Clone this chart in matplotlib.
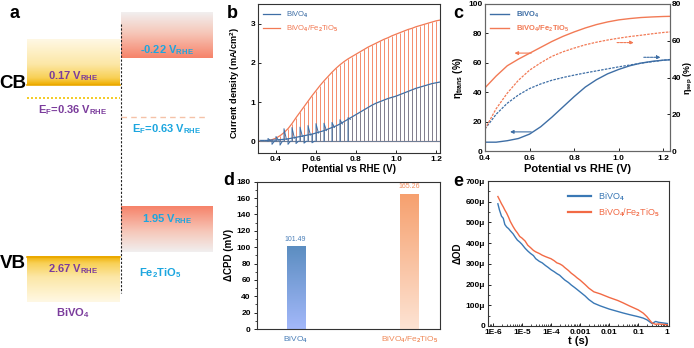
import numpy as np
import matplotlib
matplotlib.use('Agg')
import matplotlib.pyplot as plt
from matplotlib.colors import LinearSegmentedColormap
from matplotlib.ticker import FixedLocator, MultipleLocator, LogLocator, NullFormatter

plt.rcParams['font.family'] = ['Liberation Sans', 'DejaVu Sans']
plt.rcParams['font.weight'] = 'bold'
plt.rcParams['axes.labelweight'] = 'bold'
plt.rcParams['mathtext.fontset'] = 'custom'
plt.rcParams['mathtext.rm'] = 'Liberation Sans:bold'
plt.rcParams['mathtext.bf'] = 'Liberation Sans:bold'
plt.rcParams['mathtext.it'] = 'Liberation Sans:bold'
plt.rcParams['mathtext.default'] = 'bf'

# ---------------- data ----------------
# panel a : band positions (V vs RHE)
bv_cb, bv_vb, bv_ef = 0.17, 2.67, 0.36
fe_cb, fe_vb, fe_ef = -0.22, 1.95, 0.63

# panel b : chopped LSV, values at each chop edge
b_v = [0.32, 0.34, 0.36, 0.38, 0.40, 0.42, 0.44, 0.46, 0.48, 0.50,
       0.52, 0.54, 0.56, 0.58, 0.60, 0.62, 0.64, 0.66, 0.68, 0.70,
       0.72, 0.74, 0.76, 0.78, 0.80, 0.82, 0.84, 0.86, 0.88, 0.90,
       0.92, 0.94, 0.96, 0.98, 1.00, 1.02, 1.04, 1.06, 1.08, 1.10,
       1.12, 1.14, 1.16, 1.18, 1.20, 1.22]
fe_light = [0.00, 0.01, 0.02, 0.04, 0.08, 0.14, 0.22, 0.32, 0.45, 0.60,
            0.74, 0.88, 1.02, 1.16, 1.29, 1.42, 1.54, 1.65, 1.76, 1.86,
            1.95, 2.03, 2.10, 2.16, 2.22, 2.28, 2.34, 2.40, 2.45, 2.50,
            2.55, 2.60, 2.64, 2.69, 2.73, 2.77, 2.81, 2.85, 2.88, 2.92,
            2.95, 2.98, 3.01, 3.04, 3.07, 3.09]
bv_light = [0.02, 0.02, 0.02, 0.03, 0.03, 0.04, 0.05, 0.06, 0.08, 0.10,
            0.12, 0.14, 0.16, 0.18, 0.21, 0.24, 0.27, 0.31, 0.35, 0.39,
            0.44, 0.50, 0.56, 0.62, 0.68, 0.74, 0.80, 0.86, 0.92, 0.97,
            1.01, 1.05, 1.09, 1.12, 1.15, 1.19, 1.23, 1.27, 1.31, 1.35,
            1.38, 1.41, 1.44, 1.47, 1.49, 1.51]
bv_spike = [0.00, 0.00, 0.07, -0.08, 0.12, -0.10, 0.32, -0.08, 0.35, -0.06,
            0.36, -0.05, 0.40, -0.04, 0.45, 0.00, 0.46, 0.00, 0.48, 0.00,
            0.55, 0.00, 0.60, 0.00, 0.00, 0.00, 0.00, 0.00, 0.00, 0.00,
            0.00, 0.00, 0.00, 0.00, 0.00, 0.00, 0.00, 0.00, 0.00, 0.00,
            0.00, 0.00, 0.00, 0.00, 0.00, 0.00]
fe_dark = 0.0
bv_dark = 0.0

# panel c : efficiencies
c_v = [0.40, 0.45, 0.50, 0.55, 0.60, 0.65, 0.70, 0.75, 0.80, 0.85,
       0.90, 0.95, 1.00, 1.05, 1.10, 1.15, 1.20, 1.23]
fe_trans = [43.0, 51.0, 58.0, 62.5, 66.5, 70.5, 74.5, 78.0, 81.0, 83.7,
            86.0, 87.8, 89.2, 90.1, 90.8, 91.2, 91.5, 91.6]
bv_trans = [6.0, 6.0, 7.0, 8.5, 11.5, 16.5, 23.0, 30.0, 37.0, 43.5,
            48.5, 52.5, 55.5, 58.0, 59.8, 61.0, 61.8, 62.0]
fe_sep = [12.0, 23.0, 31.5, 38.5, 44.0, 48.0, 51.5, 54.0, 56.0, 57.8,
          59.2, 60.4, 61.4, 62.3, 63.0, 63.8, 64.5, 64.8]
bv_sep = [12.0, 20.0, 26.0, 30.5, 34.0, 36.5, 38.5, 40.0, 41.3, 42.5,
          43.6, 44.7, 45.8, 46.8, 47.8, 48.6, 49.4, 49.8]

# panel d : CPD
d_labels = ['BiVO$_4$', 'BiVO$_4$/Fe$_2$TiO$_5$']
d_values = [101.49, 165.26]

# panel e : TAS decay (ΔOD in μ units)
e_t = [1.5e-6, 1.7e-6, 2e-6, 2.3e-6, 2.6e-6, 3e-6, 3.5e-6, 4e-6, 5e-6, 6e-6,
       7e-6, 8.5e-6, 1e-5, 1.3e-5, 1.6e-5, 2e-5, 2.5e-5, 3e-5, 4e-5, 5e-5,
       6.5e-5, 8e-5, 1e-4, 1.3e-4, 1.6e-4, 2e-4, 2.5e-4, 3e-4, 4e-4, 5e-4,
       6.5e-4, 8e-4, 1e-3, 1.5e-3, 2e-3, 3e-3, 5e-3, 1e-2, 2e-2, 3e-2,
       5e-2, 0.1, 0.15, 0.2, 0.25, 0.3, 0.4, 0.5, 0.7, 1.0]
e_bv = [590, 560, 530, 520, 490, 478, 470, 460, 445, 428,
        415, 405, 395, 375, 362, 350, 340, 325, 312, 305,
        292, 283, 272, 262, 253, 245, 232, 222, 210, 198,
        186, 176, 165, 145, 128, 110, 97, 82, 70, 63,
        55, 45, 38, 30, 20, 12, 22, 18, 15, 12]
e_fe = [625, 610, 590, 575, 560, 545, 525, 505, 480, 462,
        450, 432, 425, 410, 390, 378, 365, 358, 350, 342,
        335, 330, 325, 315, 305, 300, 292, 282, 268, 255,
        243, 232, 222, 200, 183, 165, 155, 138, 123, 112,
        97, 78, 62, 45, 28, 15, 8, 10, 8, 6]
e_ticks = [0, 100, 200, 300, 400, 500, 600, 700]

# ---------------- style ----------------
BLUE = '#3E6EA5'
ORANGE = '#F27A55'
PURPLE = '#7B3C9C'
CYAN = '#1CA6DF'
TICK = 6
LAB = 7

fig = plt.figure(figsize=(6.94, 3.48), dpi=100)

# ======== panel a ========
axa = fig.add_axes([0, 0, 215 / 694, 1])
axa.set_axis_off()
bv_cmap = LinearSegmentedColormap.from_list(
    'bv', [(0, '#FFF8E4'), (0.55, '#FCE7A6'), (0.85, '#F8D055'), (1, '#EFAE00')])
fe_cmap = LinearSegmentedColormap.from_list(
    'fe', [(0, '#F1EFEF'), (0.45, '#F6C7B9'), (1, '#F6836A')])


def grad_box(ax, x0, x1, e_edge, e_far, cmap):
    g = np.linspace(1, 0, 100).reshape(-1, 1)
    ax.imshow(g, cmap=cmap, extent=(x0, x1, e_edge, e_far), origin='lower',
              aspect='auto', interpolation='bilinear', zorder=1)


box_h = 0.66
grad_box(axa, 27, 120, bv_cb, bv_cb - box_h, bv_cmap)
grad_box(axa, 27, 120, bv_vb, bv_vb + box_h, bv_cmap)
grad_box(axa, 121, 213, fe_cb, fe_cb - box_h, fe_cmap)
grad_box(axa, 121, 213, fe_vb, fe_vb + box_h, fe_cmap)
axa.plot([27, 120], [bv_cb, bv_cb], color='#E9A800', lw=1.2, zorder=2)
axa.plot([27, 120], [bv_vb, bv_vb], color='#E9A800', lw=1.2, zorder=2)
axa.plot([27, 120], [bv_ef, bv_ef], color='#F2C200', lw=1.2, ls=(0, (1.2, 1.2)), zorder=2)
axa.plot([121, 205], [fe_ef, fe_ef], color='#F5C2A8', lw=1.0, ls=(0, (4, 3)), zorder=2)
axa.plot([121, 121], [-0.72, 3.2], color='#222222', lw=0.8, ls=(0, (2, 1.5)), zorder=3)

FA = 8
axa.text(73, bv_cb - 0.13, '0.17 V$_{RHE}$', color=PURPLE, fontsize=FA, ha='center', va='center')
axa.text(73, bv_ef + 0.17, 'E$_F$=0.36 V$_{RHE}$', color=PURPLE, fontsize=FA, ha='center', va='center')
axa.text(73, bv_vb + 0.19, '2.67 V$_{RHE}$', color=PURPLE, fontsize=FA, ha='center', va='center')
axa.text(73, 3.49, 'BiVO$_4$', color=PURPLE, fontsize=FA, ha='center', va='center')
axa.text(167, fe_cb - 0.12, '-0.22 V$_{RHE}$', color=CYAN, fontsize=FA, ha='center', va='center')
axa.text(167, fe_ef + 0.18, 'E$_F$=0.63 V$_{RHE}$', color=CYAN, fontsize=FA, ha='center', va='center')
axa.text(167, fe_vb + 0.17, '1.95 V$_{RHE}$', color=CYAN, fontsize=FA, ha='center', va='center')
axa.text(160, 2.91, 'Fe$_2$TiO$_5$', color=CYAN, fontsize=FA, ha='center', va='center')
axa.text(13, bv_cb - 0.02, 'CB', fontsize=13.5, ha='center', va='center', color='black')
axa.text(13, bv_vb + 0.1, 'VB', fontsize=13.5, ha='center', va='center', color='black')
axa.set_xlim(0, 215)
axa.set_ylim(4.004, -1.070)
fig.text(10 / 694, 1 - 14 / 348, 'a', fontsize=13, fontweight='bold', ha='left', va='center')


def style(ax, direction='in'):
    ax.tick_params(labelsize=TICK, direction=direction, width=0.6, length=2.5, pad=2)
    for sp in ax.spines.values():
        sp.set_linewidth(0.8)
        sp.set_color('#333333')


# ======== panel b ========
axb = fig.add_axes([258 / 694, 1 - 153 / 348, 182 / 694, 149 / 348])
axb.plot(b_v, fe_light, color=ORANGE, lw=0.9, zorder=2)
axb.vlines(b_v, fe_dark, fe_light, color=ORANGE, lw=0.6, zorder=2)
axb.plot([b_v[0], b_v[-1]], [fe_dark, fe_dark], color=ORANGE, lw=0.8, zorder=2)
axb.plot(b_v, bv_light, color=BLUE, lw=0.9, zorder=3, label='BiVO$_4$')
axb.vlines(b_v, bv_dark, bv_light, color='#6F7E96', lw=0.6, zorder=3)
axb.plot([b_v[0], b_v[-1]], [bv_dark, bv_dark], color='#6F7E96', lw=0.8, zorder=3)
for v, s, lt in zip(b_v, bv_spike, bv_light):
    if s > 0:
        axb.plot([v, v, v + 0.012], [bv_dark, s, lt], color=BLUE, lw=0.7, zorder=4)
    elif s < 0:
        axb.plot([v, v, v + 0.012], [lt, s, bv_dark], color=BLUE, lw=0.7, zorder=4)
axb.plot([], [], color=ORANGE, lw=0.9, label='BiVO$_4$/Fe$_2$TiO$_5$')
axb.set_xlim(0.31, 1.22)
axb.set_ylim(-0.3, 3.5)
axb.xaxis.set_major_locator(FixedLocator([0.4, 0.6, 0.8, 1.0, 1.2]))
axb.set_xticklabels(['0.4', '0.6', '0.8', '1.0', '1.2'])
axb.yaxis.set_major_locator(FixedLocator([0, 1, 2, 3]))
style(axb)
axb.set_xlabel('Potential vs RHE (V)', fontsize=LAB, labelpad=1)
axb.set_ylabel('Current density (mA/cm$^2$)', fontsize=6.6, labelpad=2)
axb.yaxis.set_label_coords(-0.09, 0.47)
leg = axb.legend(loc='upper left', fontsize=5.5, frameon=False, handlelength=2.2,
                 borderaxespad=0.3, labelspacing=0.5)
for t, c in zip(leg.get_texts(), [BLUE, ORANGE]):
    t.set_color(c)
    t.set_fontweight('normal')
fig.text(232 / 694, 1 - 13 / 348, 'b', fontsize=13, fontweight='bold', ha='center', va='center')

# ======== panel c ========
axc = fig.add_axes([485 / 694, 1 - 151 / 348, 185 / 694, 147 / 348])
axc2 = axc.twinx()
axc.plot(c_v, bv_trans, color=BLUE, lw=1.0, label='BiVO$_4$')
axc.plot(c_v, fe_trans, color=ORANGE, lw=1.0, label='BiVO$_4$/Fe$_2$TiO$_5$')
axc2.plot(c_v, bv_sep, color=BLUE, lw=0.9, ls=(0, (2, 1)))
axc2.plot(c_v, fe_sep, color=ORANGE, lw=0.9, ls=(0, (2, 1)))
axc.set_xlim(0.4, 1.23)
axc.set_ylim(0, 100)
axc2.set_ylim(0, 80)
axc.xaxis.set_major_locator(FixedLocator([0.4, 0.6, 0.8, 1.0, 1.2]))
axc.set_xticklabels(['0.4', '0.6', '0.8', '1.0', '1.2'])
axc.yaxis.set_major_locator(MultipleLocator(20))
axc2.yaxis.set_major_locator(MultipleLocator(20))
style(axc)
style(axc2)
axc2.tick_params(pad=1.5)
axc.tick_params(axis='x', pad=3)
for sp in list(axc.spines.values()) + list(axc2.spines.values()):
    sp.set_color('#666666')
arr = dict(arrowstyle='-|>', lw=0.8, mutation_scale=5)
axc.annotate('', xy=(0.52, 66.6), xytext=(0.62, 66.6), arrowprops=dict(color=ORANGE, **arr))
axc.annotate('', xy=(0.50, 13), xytext=(0.62, 13), arrowprops=dict(color=BLUE, **arr))
axc2.annotate('', xy=(1.08, 59), xytext=(0.98, 59), arrowprops=dict(color=ORANGE, ls=(0, (2, 1)), **arr))
axc2.annotate('', xy=(1.20, 51), xytext=(1.10, 51), arrowprops=dict(color=BLUE, ls=(0, (2, 1)), **arr))
axc.set_xlabel('Potential vs RHE (V)', fontsize=8, labelpad=1)
axc.set_ylabel('η$_{trans}$ (%)', fontsize=LAB, labelpad=2)
axc2.set_ylabel('η$_{sep}$ (%)', fontsize=6.4)
axc2.yaxis.set_label_coords(1.062, 0.5)
leg = axc.legend(loc='upper left', fontsize=5.5, frameon=False, handlelength=2.5,
                 borderaxespad=0.3, labelspacing=0.5)
for t, c in zip(leg.get_texts(), [BLUE, ORANGE]):
    t.set_color(c)
fig.text(458 / 694, 1 - 14 / 348, 'c', fontsize=13, fontweight='bold', ha='center', va='center')

# ======== panel d ========
axd = fig.add_axes([257 / 694, 1 - 329 / 348, 183 / 694, 147.3 / 348])
x = np.arange(len(d_values))
bars = axd.bar(x, d_values, width=0.16, color='none', edgecolor='none')
d_cmaps = [LinearSegmentedColormap.from_list('b', ['#A3B8FA', '#5B8DC0']),
           LinearSegmentedColormap.from_list('o', ['#FDE3D3', '#F6A06E'])]
g = np.linspace(0, 1, 100).reshape(-1, 1)
for b, cm in zip(bars, d_cmaps):
    x0, w, h = b.get_x(), b.get_width(), b.get_height()
    im = axd.imshow(g, cmap=cm, extent=(x0, x0 + w, 0, h), origin='lower',
                    aspect='auto', zorder=2)
    im.set_clip_path(b)
d_colors = ['#4A7FB8', '#F08A5A']
for xi, v, c in zip(x, d_values, d_colors):
    axd.text(xi, v + 4, f'{v:.2f}', color=c, fontsize=5, ha='center', va='bottom',
             fontweight='normal')
axd.set_xlim(-0.34, 1.27)
axd.set_ylim(0, 180)
axd.set_xticks(x)
axd.set_xticklabels(d_labels)
for t, c in zip(axd.get_xticklabels(), d_colors):
    t.set_color(c)
    t.set_fontweight('normal')
    t.set_fontsize(5.5)
axd.yaxis.set_major_locator(MultipleLocator(20))
axd.yaxis.set_minor_locator(MultipleLocator(10))
style(axd, direction='out')
axd.tick_params(axis='x', length=0, pad=4)
axd.tick_params(axis='y', which='minor', length=1.5, width=0.5)
axd.set_ylabel('ΔCPD (mV)', fontsize=LAB, labelpad=2)
fig.text(229 / 694, 1 - 181 / 348, 'd', fontsize=13, fontweight='bold', ha='center', va='center')

# ======== panel e ========
axe = fig.add_axes([487.7 / 694, 1 - 326 / 348, 181.3 / 694, 145 / 348])
axe.plot(e_t, e_bv, color='#3A78B5', lw=1.0, label='BiVO$_4$')
axe.plot(e_t, e_fe, color='#F26A45', lw=1.0, label='BiVO$_4$/Fe$_2$TiO$_5$')
axe.set_xscale('log')
axe.set_xlim(6.7e-7, 1.15)
axe.set_ylim(0, 700)
axe.xaxis.set_major_locator(FixedLocator([1e-6, 1e-5, 1e-4, 1e-3, 1e-2, 1e-1, 1]))
axe.set_xticklabels(['1E-6', '1E-5', '1E-4', '0.001', '0.01', '0.1', '1'])
axe.xaxis.set_minor_locator(LogLocator(base=10, subs=np.arange(2, 10), numticks=20))
axe.xaxis.set_minor_formatter(NullFormatter())
axe.yaxis.set_major_locator(FixedLocator(e_ticks))
axe.set_yticklabels(['0'] + [f'{k}μ' for k in e_ticks[1:]])
axe.yaxis.set_minor_locator(MultipleLocator(50))
style(axe)
axe.tick_params(which='minor', direction='in', length=1.5, width=0.5)
axe.set_xlabel('t (s)', fontsize=8, labelpad=0)
axe.set_ylabel('ΔOD', fontsize=LAB, labelpad=2)
leg = axe.legend(loc='upper right', fontsize=6.5, frameon=False, handlelength=2.6,
                 borderaxespad=0.6, labelspacing=0.4)
for t, c in zip(leg.get_texts(), ['#3A78B5', '#F26A45']):
    t.set_color(c)
    t.set_fontweight('normal')
for l in leg.get_lines():
    l.set_linewidth(1.6)
fig.text(458 / 694, 1 - 182 / 348, 'e', fontsize=13, fontweight='bold', ha='center', va='center')

fig.savefig('out.png', dpi=100)
